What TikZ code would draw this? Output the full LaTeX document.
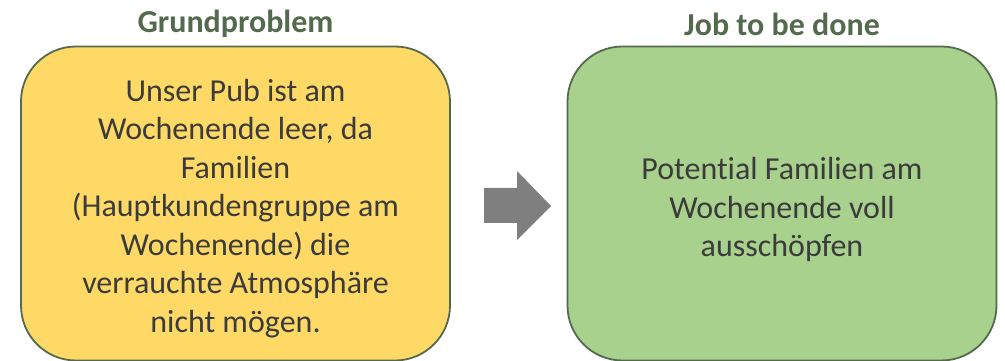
\documentclass[tikz,border=0pt]{standalone}
\usepackage{fontspec}
\setmainfont{Carlito}[Ligatures=NoCommon]
\usetikzlibrary{positioning}
\definecolor{titlegreen}{HTML}{546A4E}
\definecolor{framegreen}{HTML}{546A4E}
\definecolor{problemyellow}{HTML}{FFD966}
\definecolor{jobgreen}{HTML}{A9D18E}
\definecolor{textgray}{HTML}{3B3B3B}
\definecolor{arrowgray}{HTML}{7F7F7F}

\begin{document}
\begin{tikzpicture}[x=1pt,y=1pt,
					box node/.style={rounded corners=55pt,draw=framegreen,line width=1.8pt,
						minimum width=429pt,minimum height=314pt,align=center,
						font=\fontsize{32}{38.5}\selectfont,text=textgray},
					title node/.style={font=\fontsize{32}{38}\selectfont\bfseries,text=titlegreen}]
					
					\useasboundingbox (0,0) rectangle (1005,361);
					
					\node[box node,fill=problemyellow] (1) at (235.5,157.5) {};
					\node[box node,fill=jobgreen] (2) at (782,157.5) {};
					
					\node[box node,draw=none] (l1) at ([yshift=-5pt]1.center)
					{Unser Pub ist am\\ Wochenende leer, da\\ Familien\\ (Hauptkundengruppe am\\
						Wochenende) die\\ verrauchte Atmosphäre\\ nicht mögen.};
					\node[box node,draw=none] (l2) at ([yshift=-6pt]2.center)
					{Potential Familien am\\ Wochenende voll\\ ausschöpfen};
					
					\node[title node] (t1) at (1.center |- 0,337) {Grundproblem};
					\node[title node] (t2) at (2.center |- 0,337) {Job to be done};
					
					% block arrow between the boxes
					\fill[arrowgray] (484,173) -- (517,173) -- (517,190) -- (551,155)
					-- (517,121) -- (517,138) -- (484,138) -- cycle;
					
					\end{tikzpicture}
\end{document}
